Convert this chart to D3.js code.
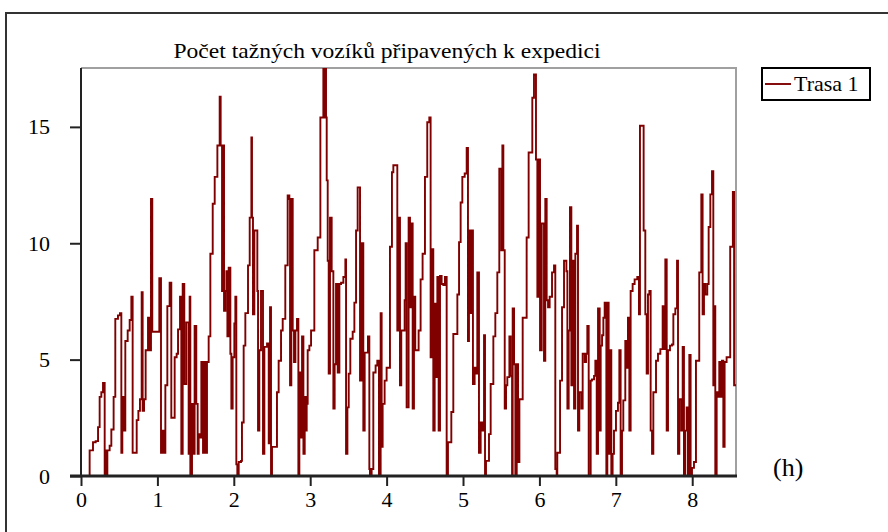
<!DOCTYPE html>
<html>
<head>
<meta charset="utf-8">
<script src="https://cdn.jsdelivr.net/npm/d3@7"></script>
<style>
  body { margin: 0; background: #fff; }
  svg { display: block; }
</style>
</head>
<body>
<svg id="chart" width="888" height="532"></svg>
<script>
// cas [h] - zacatek kroku
const times = [0,0.113,0.157,0.192,0.223,0.244,0.266,0.288,0.31,0.323,0.332,0.345,0.375,0.397,0.427,0.449,0.484,0.51,0.528,0.541,0.558,0.58,0.611,0.637,0.659,0.676,0.729,0.751,0.772,0.794,0.807,0.825,0.846,0.877,0.894,0.916,0.933,1.025,1.047,1.069,1.08,1.104,1.13,1.16,1.182,1.226,1.252,1.27,1.296,1.313,1.331,1.352,1.378,1.409,1.422,1.431,1.453,1.474,1.487,1.509,1.527,1.54,1.562,1.575,1.597,1.614,1.636,1.649,1.671,1.693,1.724,1.75,1.785,1.815,1.828,1.846,1.859,1.872,1.89,1.903,1.916,1.933,1.955,1.968,1.985,2.007,2.02,2.033,2.046,2.064,2.094,2.107,2.129,2.151,2.186,2.208,2.23,2.238,2.251,2.269,2.308,2.317,2.334,2.356,2.382,2.4,2.435,2.457,2.474,2.487,2.5,2.565,2.587,2.618,2.64,2.674,2.705,2.727,2.736,2.753,2.771,2.788,2.806,2.827,2.845,2.858,2.876,2.893,2.911,2.928,2.945,2.954,2.967,2.989,3.011,3.054,3.098,3.133,3.172,3.19,3.2,3.207,3.216,3.229,3.242,3.259,3.281,3.303,3.32,3.338,3.36,3.382,3.404,3.434,3.46,3.469,3.487,3.504,3.525,3.556,3.578,3.6,3.621,3.652,3.674,3.695,3.713,3.756,3.774,3.782,3.804,3.826,3.856,3.878,3.9,3.922,3.935,3.948,3.974,4.0,4.044,4.07,4.088,4.14,4.157,4.175,4.192,4.236,4.249,4.262,4.288,4.306,4.323,4.341,4.358,4.375,4.419,4.445,4.471,4.502,4.532,4.559,4.576,4.594,4.611,4.629,4.646,4.664,4.681,4.699,4.72,4.742,4.764,4.786,4.803,4.847,4.873,4.926,4.948,4.969,4.991,5.022,5.048,5.065,5.078,5.1,5.117,5.13,5.152,5.17,5.187,5.209,5.231,5.253,5.275,5.288,5.301,5.34,5.362,5.397,5.423,5.449,5.475,5.501,5.515,5.528,5.546,5.563,5.58,5.607,5.624,5.642,5.65,5.668,5.685,5.703,5.72,5.738,5.781,5.833,5.859,5.907,5.929,5.955,5.973,5.99,6.008,6.03,6.06,6.077,6.095,6.113,6.134,6.165,6.191,6.208,6.226,6.234,6.27,6.296,6.322,6.353,6.366,6.383,6.4,6.418,6.435,6.453,6.47,6.492,6.505,6.522,6.549,6.566,6.593,6.61,6.627,6.645,6.671,6.688,6.715,6.732,6.75,6.767,6.789,6.802,6.82,6.837,6.854,6.876,6.889,6.906,6.924,6.941,6.958,6.976,7.002,7.028,7.046,7.063,7.081,7.098,7.124,7.142,7.159,7.177,7.194,7.22,7.246,7.281,7.303,7.316,7.364,7.386,7.404,7.421,7.439,7.456,7.474,7.491,7.526,7.552,7.583,7.613,7.631,7.648,7.666,7.683,7.709,7.735,7.753,7.779,7.801,7.814,7.831,7.857,7.875,7.892,7.909,7.927,7.944,7.962,7.979,7.997,8.023,8.049,8.092,8.119,8.136,8.154,8.171,8.197,8.215,8.237,8.259,8.276,8.294,8.302,8.32,8.337,8.354,8.372,8.389,8.407,8.424,8.45,8.497,8.532,8.548];
// pocet vozidel
const counts = [0,1.1,1.45,1.5,2.1,3.4,3.6,4.0,0,1.1,0,1.1,1.3,2.0,3.4,6.75,6.9,7.0,1.0,3.4,1.95,5.8,6.25,6.7,7.7,1.0,2.4,2.8,3.3,7.9,2.8,3.3,5.4,6.8,5.4,11.9,6.2,8.5,1.0,1.95,1.0,3.9,7.3,8.3,2.5,5.1,5.25,6.3,7.7,0.95,8.25,3.95,6.6,0.95,7.7,0,3.1,0.95,6.45,3.1,0.95,1.8,1.65,4.9,1.0,4.9,1.0,4.9,6.0,9.55,11.7,12.85,14.2,16.3,14.2,7.95,14.2,7.1,7.95,8.8,6.0,8.95,5.25,2.9,5.1,6.55,7.7,0.5,0,0.6,0.65,2.3,5.6,7.0,9.05,11.1,14.55,11.1,6.95,10.55,7.95,1.95,5.4,7.95,0.95,5.55,5.7,1.4,7.25,0,1.25,3.6,4.95,6.25,6.75,9.05,12.05,11.9,3.9,11.9,6.25,4.9,6.25,6.75,0,4.45,1.65,6.0,0.95,3.4,1.95,3.1,5.4,5.6,6.25,9.7,10.25,15.4,17.55,15.4,17.55,15.4,12.7,9.25,4.4,11.1,8.8,2.9,4.8,8.25,4.45,8.25,8.3,8.55,9.3,0.95,2.95,4.4,5.9,6.2,7.45,10.55,12.4,4.1,10.0,1.95,5.3,6.0,0.3,0,0.3,4.45,4.75,4.95,0,7.0,1.25,3.1,4.1,4.65,9.85,13.05,13.35,6.25,11.1,3.9,6.25,7.55,10.0,2.95,11.1,7.25,10.85,2.9,7.7,5.4,6.25,8.45,9.55,12.85,15.2,15.4,5.1,9.75,1.95,7.4,4.25,8.55,1.95,8.6,8.25,8.2,8.55,0,1.45,2.75,6.1,7.8,10.05,11.75,12.85,13.0,14.1,5.8,10.55,7.0,10.55,3.95,4.65,4.4,8.75,1.0,2.3,1.95,6.05,0,0.65,1.8,3.95,6.0,7.0,8.75,13.2,9.7,14.2,9.7,2.9,3.9,4.25,6.0,4.3,0,7.2,4.8,0,4.8,0.6,3.3,6.8,10.25,13.9,16.25,17.25,13.6,7.7,13.6,5.4,10.85,4.95,11.9,7.55,7.25,7.7,8.75,9.05,0.3,0,1.0,4.1,7.25,9.25,8.8,2.9,6.25,11.55,3.9,9.25,2.9,9.55,10.75,1.95,3.6,2.9,5.25,4.9,5.25,6.45,0,4.1,4.15,4.3,4.95,0.95,7.2,1.95,5.6,6.05,6.8,7.45,0,7.45,0.95,5.4,0,0.95,1.95,2.8,3.15,5.4,0,1.95,3.25,5.8,4.65,6.8,1.95,7.95,8.25,8.45,8.55,6.95,15.05,10.55,6.95,4.4,7.8,7.95,1.95,0.95,3.6,4.95,5.25,5.45,7.3,5.45,9.3,1.95,5.4,5.6,5.65,6.95,7.2,9.25,0.95,3.3,1.95,5.55,0,1.95,2.95,0,5.2,0,0.35,0.6,4.95,8.75,12.1,6.95,8.25,7.8,8.25,10.7,12.1,13.1,3.9,7.3,0,3.6,3.4,4.9,3.4,4.95,1.25,4.9,5.1,9.85,12.2,3.9];

const xTicks = [0, 1, 2, 3, 4, 5, 6, 7, 8];
const yTicks = [0, 5, 10, 15];
const title = "Počet tažných vozíků připavených k expedici";
const seriesName = "Trasa 1";
const unitLabel = "(h)";

const svg = d3.select("#chart");
const plotL = 81, plotR = 736, plotT = 68, plotB = 476;
const lineColor = "#800000";
const serif = "'Liberation Serif', 'DejaVu Serif', serif";

const x = d3.scaleLinear().domain([0, 8.573]).range([plotL, plotR]);
const y = d3.scaleLinear().domain([0, 17.53]).range([plotB, plotT]);

// vnejsi ramecek
svg.append("rect").attr("x", 6).attr("y", 13).attr("width", 900).attr("height", 540)
  .attr("fill", "none").attr("stroke", "#333").attr("stroke-width", 2);

// horni a prava hrana grafu
svg.append("path")
  .attr("d", `M${plotL},${plotT}H${plotR}V${plotB}`)
  .attr("fill", "none").attr("stroke", "#a0a0a0").attr("stroke-width", 2);

svg.append("clipPath").attr("id", "plotclip")
  .append("rect").attr("x", plotL).attr("y", plotT).attr("width", plotR - plotL).attr("height", plotB - plotT);

const pts = times.map((t, i) => [t, counts[i]]);
const line = d3.line().x(d => x(d[0])).y(d => y(d[1])).curve(d3.curveStepAfter);
svg.append("path")
  .datum(pts.concat([[x.domain()[1], counts[counts.length - 1]]]))
  .attr("clip-path", "url(#plotclip)")
  .attr("d", line)
  .attr("fill", "none").attr("stroke", lineColor).attr("stroke-width", 1.9);

// osy
const yAxis = svg.append("g").attr("transform", `translate(${plotL},0)`)
  .call(d3.axisLeft(y).tickValues(yTicks).tickSize(11).tickPadding(20).tickFormat(d3.format("d")));
const xAxis = svg.append("g").attr("transform", `translate(0,${plotB})`)
  .call(d3.axisBottom(x).tickValues(xTicks).tickSize(10).tickPadding(5).tickFormat(d3.format("d")));
[xAxis, yAxis].forEach(g => {
  g.attr("font-family", serif).attr("font-size", 22);
  g.select(".domain").remove();
  g.selectAll("line").attr("stroke", "#222").attr("stroke-width", 2);
  g.selectAll("text").attr("fill", "#000");
});
svg.append("line").attr("x1", plotL).attr("x2", plotL).attr("y1", plotT).attr("y2", plotB)
  .attr("stroke", "#222").attr("stroke-width", 2);
svg.append("line").attr("x1", 70).attr("x2", plotR + 1).attr("y1", plotB).attr("y2", plotB)
  .attr("stroke", "#222").attr("stroke-width", 3);

// titulek
svg.append("text").attr("x", 387).attr("y", 58).attr("text-anchor", "middle")
  .attr("font-family", serif).attr("font-size", 22)
  .attr("textLength", 427).attr("lengthAdjust", "spacingAndGlyphs")
  .text(title);

// legenda
const lg = svg.append("g").attr("transform", "translate(762,68)");
lg.append("rect").attr("width", 108).attr("height", 32)
  .attr("fill", "#fff").attr("stroke", "#000").attr("stroke-width", 2);
lg.append("line").attr("x1", 3).attr("x2", 29).attr("y1", 16).attr("y2", 16)
  .attr("stroke", lineColor).attr("stroke-width", 1.9);
lg.append("text").attr("x", 32).attr("y", 23)
  .attr("font-family", serif).attr("font-size", 22).text(seriesName);

svg.append("text").attr("x", 773).attr("y", 476)
  .attr("font-family", serif).attr("font-size", 26).text(unitLabel);
</script>
</body>
</html>
